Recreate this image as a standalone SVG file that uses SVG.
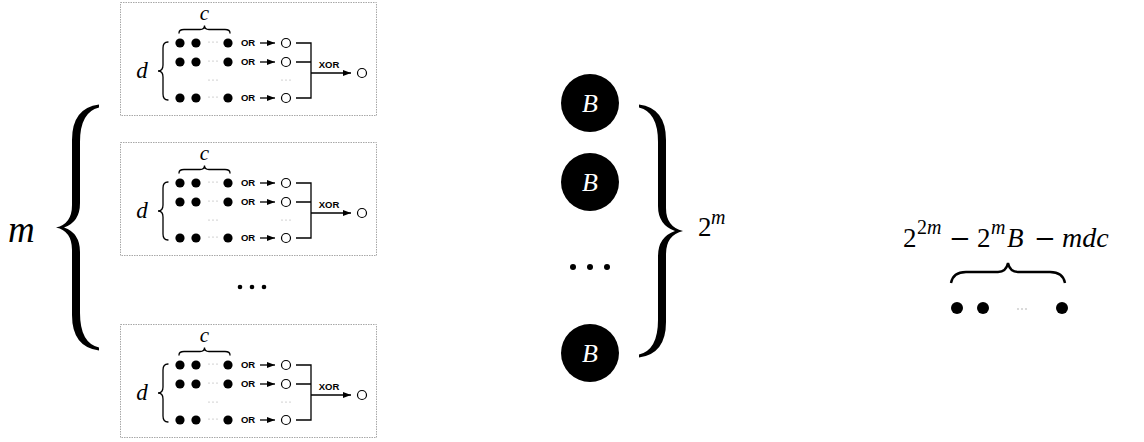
<svg xmlns="http://www.w3.org/2000/svg" width="1144" height="442" viewBox="0 0 1144 442">
  <style>
    .frame { fill: none; stroke: #a8a8a8; stroke-width: 1; stroke-dasharray: 1.5 1; }
    .var { font-family: "Liberation Serif", "DejaVu Serif", serif; font-style: italic; fill: #000; }
    .num { font-family: "Liberation Serif", "DejaVu Serif", serif; font-style: normal; fill: #000; }
    .op { font-family: "DejaVu Serif", "Liberation Serif", serif; font-style: normal; fill: #000; text-anchor: middle; }
    .gate { font-family: "Liberation Sans", Arial, sans-serif; font-weight: bold; font-size: 9.5px; fill: #000; text-anchor: middle; }
    .bit { fill: #000; }
    .out { fill: #fff; stroke: #000; stroke-width: 1.2; }
    .wire { fill: none; stroke: #000; stroke-width: 1.3; }
    .brace-s { fill: none; stroke: #000; stroke-width: 1.3; stroke-linecap: round; }
    .brace-f { fill: #000; stroke: none; }
    .faint { fill: #9a9a9a; }
    .bnode { fill: #000; }
    .blabel { font-family: "Liberation Serif", "DejaVu Serif", serif; font-style: italic; font-size: 26px; fill: #fff; text-anchor: middle; }
  </style>
  <defs>
    <marker id="ah" markerUnits="userSpaceOnUse" markerWidth="8" markerHeight="6" refX="8" refY="3" orient="auto">
      <path d="M0,0 L8,3 L0,6 Z" fill="#000"/>
    </marker>
  </defs>

  <rect width="1144" height="442" fill="#fff"/>

  <!-- label m and the big left brace over the m blocks -->
  <g id="m-brace">
    <text class="var" x="8" y="242" font-size="37">m</text>
    <path class="brace-f" d="M99,104.5 Q72,108 72,140 L72,205 Q72,224 56,227.5 Q72,231 72,250 L72,315 Q72,347 99,350.5 L99,347.5 Q80,343 80,313 L80,252 Q80,233 64,227.5 Q80,222 80,203 L80,142 Q80,112 99,107.5 Z"/>
  </g>

  <!-- block 1 -->
  <g id="block1">
    <rect class="frame" x="120.5" y="2.5" width="256" height="113"/>
    <text class="var" x="204.5" y="20" font-size="21" text-anchor="middle">c</text>
    <path class="brace-s" d="M179,33 Q179,29.5 184,29.5 L200,29.5 Q204.5,29.5 204.5,25.5 Q204.5,29.5 209,29.5 L225,29.5 Q230,29.5 230,33"/>
    <text class="var" x="142" y="78" font-size="23" text-anchor="middle">d</text>
    <path class="brace-s" d="M168,42 Q163,42 163,48 L163,65 Q163,71 158,71 Q163,71 163,77 L163,94 Q163,100 168,100"/>
    <g class="bit">
      <circle cx="180" cy="43" r="4.6"/><circle cx="196" cy="43" r="4.6"/><circle cx="228" cy="43" r="4.6"/>
      <circle cx="180" cy="62" r="4.6"/><circle cx="196" cy="62" r="4.6"/><circle cx="228" cy="62" r="4.6"/>
      <circle cx="180" cy="98" r="4.6"/><circle cx="196" cy="98" r="4.6"/><circle cx="228" cy="98" r="4.6"/>
    </g>
    <g class="faint">
      <circle cx="209" cy="42" r="0.6"/><circle cx="213" cy="42" r="0.6"/><circle cx="217" cy="42" r="0.6"/>
      <circle cx="209" cy="61" r="0.6"/><circle cx="213" cy="61" r="0.6"/><circle cx="217" cy="61" r="0.6"/>
      <circle cx="209" cy="97" r="0.6"/><circle cx="213" cy="97" r="0.6"/><circle cx="217" cy="97" r="0.6"/>
      <circle cx="209" cy="80" r="0.6"/><circle cx="213" cy="80" r="0.6"/><circle cx="217" cy="80" r="0.6"/>
      <circle cx="282" cy="80" r="0.6"/><circle cx="286" cy="80" r="0.6"/><circle cx="290" cy="80" r="0.6"/>
    </g>
    <text class="gate" x="248" y="46.4">OR</text>
    <text class="gate" x="248" y="65.4">OR</text>
    <text class="gate" x="248" y="101.4">OR</text>
    <text class="gate" x="329" y="68">XOR</text>
    <circle class="out" cx="286" cy="43" r="4.5"/>
    <circle class="out" cx="286" cy="62" r="4.5"/>
    <circle class="out" cx="286" cy="98" r="4.5"/>
    <circle class="out" cx="362" cy="73" r="4.5"/>
  </g>

  <!-- block 2 -->
  <g id="block2" transform="translate(0,140)">
    <rect class="frame" x="120.5" y="2.5" width="256" height="113"/>
    <text class="var" x="204.5" y="20" font-size="21" text-anchor="middle">c</text>
    <path class="brace-s" d="M179,33 Q179,29.5 184,29.5 L200,29.5 Q204.5,29.5 204.5,25.5 Q204.5,29.5 209,29.5 L225,29.5 Q230,29.5 230,33"/>
    <text class="var" x="142" y="78" font-size="23" text-anchor="middle">d</text>
    <path class="brace-s" d="M168,42 Q163,42 163,48 L163,65 Q163,71 158,71 Q163,71 163,77 L163,94 Q163,100 168,100"/>
    <g class="bit">
      <circle cx="180" cy="43" r="4.6"/><circle cx="196" cy="43" r="4.6"/><circle cx="228" cy="43" r="4.6"/>
      <circle cx="180" cy="62" r="4.6"/><circle cx="196" cy="62" r="4.6"/><circle cx="228" cy="62" r="4.6"/>
      <circle cx="180" cy="98" r="4.6"/><circle cx="196" cy="98" r="4.6"/><circle cx="228" cy="98" r="4.6"/>
    </g>
    <g class="faint">
      <circle cx="209" cy="42" r="0.6"/><circle cx="213" cy="42" r="0.6"/><circle cx="217" cy="42" r="0.6"/>
      <circle cx="209" cy="61" r="0.6"/><circle cx="213" cy="61" r="0.6"/><circle cx="217" cy="61" r="0.6"/>
      <circle cx="209" cy="97" r="0.6"/><circle cx="213" cy="97" r="0.6"/><circle cx="217" cy="97" r="0.6"/>
      <circle cx="209" cy="80" r="0.6"/><circle cx="213" cy="80" r="0.6"/><circle cx="217" cy="80" r="0.6"/>
      <circle cx="282" cy="80" r="0.6"/><circle cx="286" cy="80" r="0.6"/><circle cx="290" cy="80" r="0.6"/>
    </g>
    <text class="gate" x="248" y="46.4">OR</text>
    <text class="gate" x="248" y="65.4">OR</text>
    <text class="gate" x="248" y="101.4">OR</text>
    <text class="gate" x="329" y="68">XOR</text>
    <circle class="out" cx="286" cy="43" r="4.5"/>
    <circle class="out" cx="286" cy="62" r="4.5"/>
    <circle class="out" cx="286" cy="98" r="4.5"/>
    <circle class="out" cx="362" cy="73" r="4.5"/>
  </g>

  <!-- ellipsis between block 2 and the last block -->
  <g id="blocks-ellipsis" class="bit">
    <circle cx="240" cy="287" r="2.3"/><circle cx="252" cy="287" r="2.3"/><circle cx="264" cy="287" r="2.3"/>
  </g>

  <!-- block 3 -->
  <g id="block3" transform="translate(0,322)">
    <rect class="frame" x="120.5" y="2.5" width="256" height="113"/>
    <text class="var" x="204.5" y="20" font-size="21" text-anchor="middle">c</text>
    <path class="brace-s" d="M179,33 Q179,29.5 184,29.5 L200,29.5 Q204.5,29.5 204.5,25.5 Q204.5,29.5 209,29.5 L225,29.5 Q230,29.5 230,33"/>
    <text class="var" x="142" y="78" font-size="23" text-anchor="middle">d</text>
    <path class="brace-s" d="M168,42 Q163,42 163,48 L163,65 Q163,71 158,71 Q163,71 163,77 L163,94 Q163,100 168,100"/>
    <g class="bit">
      <circle cx="180" cy="43" r="4.6"/><circle cx="196" cy="43" r="4.6"/><circle cx="228" cy="43" r="4.6"/>
      <circle cx="180" cy="62" r="4.6"/><circle cx="196" cy="62" r="4.6"/><circle cx="228" cy="62" r="4.6"/>
      <circle cx="180" cy="98" r="4.6"/><circle cx="196" cy="98" r="4.6"/><circle cx="228" cy="98" r="4.6"/>
    </g>
    <g class="faint">
      <circle cx="209" cy="42" r="0.6"/><circle cx="213" cy="42" r="0.6"/><circle cx="217" cy="42" r="0.6"/>
      <circle cx="209" cy="61" r="0.6"/><circle cx="213" cy="61" r="0.6"/><circle cx="217" cy="61" r="0.6"/>
      <circle cx="209" cy="97" r="0.6"/><circle cx="213" cy="97" r="0.6"/><circle cx="217" cy="97" r="0.6"/>
      <circle cx="209" cy="80" r="0.6"/><circle cx="213" cy="80" r="0.6"/><circle cx="217" cy="80" r="0.6"/>
      <circle cx="282" cy="80" r="0.6"/><circle cx="286" cy="80" r="0.6"/><circle cx="290" cy="80" r="0.6"/>
    </g>
    <text class="gate" x="248" y="46.4">OR</text>
    <text class="gate" x="248" y="65.4">OR</text>
    <text class="gate" x="248" y="101.4">OR</text>
    <text class="gate" x="329" y="68">XOR</text>
    <circle class="out" cx="286" cy="43" r="4.5"/>
    <circle class="out" cx="286" cy="62" r="4.5"/>
    <circle class="out" cx="286" cy="98" r="4.5"/>
    <circle class="out" cx="362" cy="73" r="4.5"/>
  </g>

  <!-- wires inside the blocks: OR arrows, the XOR bus and its output arrow -->
  <g id="connectors">
    <g transform="translate(0,0)">
      <line class="wire" x1="260" y1="43" x2="275" y2="43" marker-end="url(#ah)"/>
      <line class="wire" x1="260" y1="62" x2="275" y2="62" marker-end="url(#ah)"/>
      <line class="wire" x1="260" y1="98" x2="275" y2="98" marker-end="url(#ah)"/>
      <path class="wire" d="M296,43 H311 M296,62 H311 M296,98 H311 M311,42.35 V98.65"/>
      <line class="wire" x1="311" y1="73" x2="351" y2="73" marker-end="url(#ah)"/>
    </g>
    <g transform="translate(0,140)">
      <line class="wire" x1="260" y1="43" x2="275" y2="43" marker-end="url(#ah)"/>
      <line class="wire" x1="260" y1="62" x2="275" y2="62" marker-end="url(#ah)"/>
      <line class="wire" x1="260" y1="98" x2="275" y2="98" marker-end="url(#ah)"/>
      <path class="wire" d="M296,43 H311 M296,62 H311 M296,98 H311 M311,42.35 V98.65"/>
      <line class="wire" x1="311" y1="73" x2="351" y2="73" marker-end="url(#ah)"/>
    </g>
    <g transform="translate(0,322)">
      <line class="wire" x1="260" y1="43" x2="275" y2="43" marker-end="url(#ah)"/>
      <line class="wire" x1="260" y1="62" x2="275" y2="62" marker-end="url(#ah)"/>
      <line class="wire" x1="260" y1="98" x2="275" y2="98" marker-end="url(#ah)"/>
      <path class="wire" d="M296,43 H311 M296,62 H311 M296,98 H311 M311,42.35 V98.65"/>
      <line class="wire" x1="311" y1="73" x2="351" y2="73" marker-end="url(#ah)"/>
    </g>
  </g>

  <!-- B nodes -->
  <g id="b1"><circle class="bnode" cx="590" cy="103" r="29"/><text class="blabel" x="590" y="112">B</text></g>
  <g id="b2"><circle class="bnode" cx="590" cy="182" r="29"/><text class="blabel" x="590" y="191">B</text></g>
  <g id="b-ellipsis" class="bit">
    <circle cx="573" cy="267" r="3"/><circle cx="590" cy="267" r="3"/><circle cx="607" cy="267" r="3"/>
  </g>
  <g id="b3"><circle class="bnode" cx="590" cy="353" r="29"/><text class="blabel" x="590" y="362">B</text></g>

  <!-- right brace with 2^m -->
  <g id="pow-brace">
    <path class="brace-f" d="M639,104.5 Q666,108 666,140 L666,208 Q666,227 683,231 Q666,235 666,254 L666,322 Q666,354 639,357.5 L639,354.5 Q658,350 658,320 L658,256 Q658,237 675,231 Q658,225 658,206 L658,142 Q658,112 639,107.5 Z"/>
    <text class="num" x="698" y="236" font-size="27">2</text>
    <text class="var" x="711" y="224" font-size="20">m</text>
  </g>

  <!-- remaining free bits -->
  <g id="remainder">
    <text class="num" x="903" y="247" font-size="27">2</text>
    <text class="num" x="917" y="234" font-size="20">2</text>
    <text class="var" x="927" y="234" font-size="20">m</text>
    <text class="op" x="960" y="247" font-size="26">−</text>
    <text class="num" x="977" y="247" font-size="27">2</text>
    <text class="var" x="991" y="234" font-size="20">m</text>
    <text class="var" x="1007" y="247" font-size="27">B</text>
    <text class="op" x="1045" y="247" font-size="26">−</text>
    <text class="var" x="1062" y="247" font-size="28">mdc</text>
    <path d="M951,283 Q953,272 966,272 L998,272 Q1006,272 1008,263 Q1010,272 1018,272 L1050,272 Q1063,272 1065,283" fill="none" stroke="#000" stroke-width="2.4"/>
    <g class="bit">
      <circle cx="957" cy="308" r="6"/><circle cx="983" cy="308" r="6"/><circle cx="1062" cy="308" r="6"/>
    </g>
    <g class="faint">
      <circle cx="1018" cy="309" r="0.7"/><circle cx="1022" cy="309" r="0.7"/><circle cx="1026" cy="309" r="0.7"/>
    </g>
  </g>
</svg>
